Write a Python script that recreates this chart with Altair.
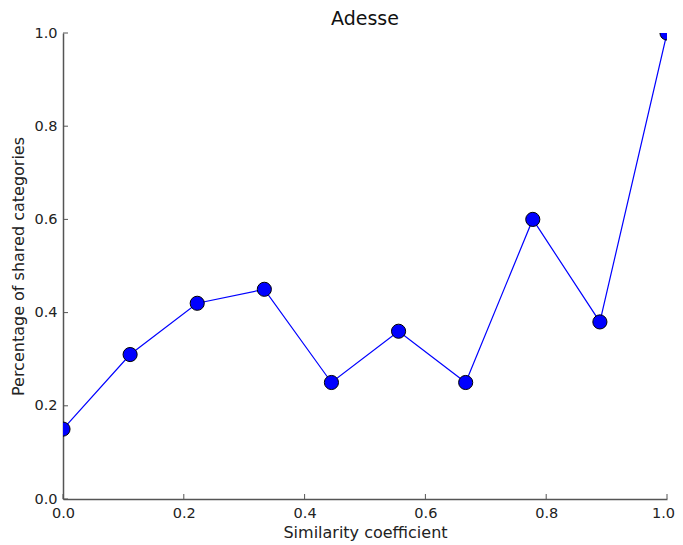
import altair as alt
import pandas as pd

x_vals = [0.0, 1/9, 2/9, 3/9, 4/9, 5/9, 6/9, 7/9, 8/9, 1.0]
y_vals = [0.15, 0.31, 0.42, 0.45, 0.25, 0.36, 0.25, 0.60, 0.38, 1.0]
tick_vals = [0.0, 0.2, 0.4, 0.6, 0.8, 1.0]

df = pd.DataFrame({"x": x_vals, "y": y_vals})
ticks = pd.DataFrame({"t": tick_vals})

W, H = 604, 466
FONT = "DejaVu Sans"

xscale = alt.Scale(domain=[0, 1], nice=False, zero=False)
yscale = alt.Scale(domain=[0, 1], nice=False, zero=False)

xaxis = alt.Axis(values=tick_vals, format=".1f", tickSize=0, labelPadding=7, labelFlush=False,
                 labelOffset=alt.expr("datum.value >= 1 ? -4 : 0"),
                 title="Similarity coefficient", titlePadding=5,
                 domainColor="#555", domainWidth=1.5, grid=False,
                 labelFont=FONT, labelFontSize=14.5, labelColor="#222",
                 titleFont=FONT, titleFontSize=16, titleFontWeight="normal", titleColor="#222")
yaxis = alt.Axis(values=tick_vals, format=".1f", tickSize=0, labelPadding=6, labelFlush=False,
                 title="Percentage of shared categories", titlePadding=7,
                 domainColor="#555", domainWidth=1.5, grid=False,
                 labelFont=FONT, labelFontSize=14.5, labelColor="#222",
                 titleFont=FONT, titleFontSize=16, titleFontWeight="normal", titleColor="#222")

line = alt.Chart(df).mark_line(color="#0000ff", strokeWidth=1.2, clip=True).encode(
    x=alt.X("x:Q", scale=xscale, axis=xaxis),
    y=alt.Y("y:Q", scale=yscale, axis=yaxis),
)
pts = alt.Chart(df).mark_point(filled=True, shape="circle", size=200, color="#0000ff",
                               stroke="black", strokeWidth=1, opacity=1, clip=True).encode(
    x=alt.X("x:Q", scale=xscale),
    y=alt.Y("y:Q", scale=yscale),
)
xticks = alt.Chart(ticks).mark_rule(color="#555", strokeWidth=1).encode(
    x=alt.X("t:Q", scale=xscale),
    y=alt.value(H), y2=alt.value(H - 5),
)
yticks = alt.Chart(ticks).mark_rule(color="#555", strokeWidth=1).encode(
    y=alt.Y("t:Q", scale=yscale),
    x=alt.value(0), x2=alt.value(5),
)

chart = alt.layer(line, pts, xticks, yticks).properties(
    width=W, height=H,
    title=alt.Title("Adesse", font=FONT, fontSize=19, fontWeight="normal", color="#111", offset=-4),
    autosize=alt.AutoSizeParams(type="none"),
    padding={"left": 55, "top": 25, "right": 8, "bottom": 50},
).configure_view(stroke=None)

chart.save("out.html", embed_options={"renderer": "svg", "actions": False})
